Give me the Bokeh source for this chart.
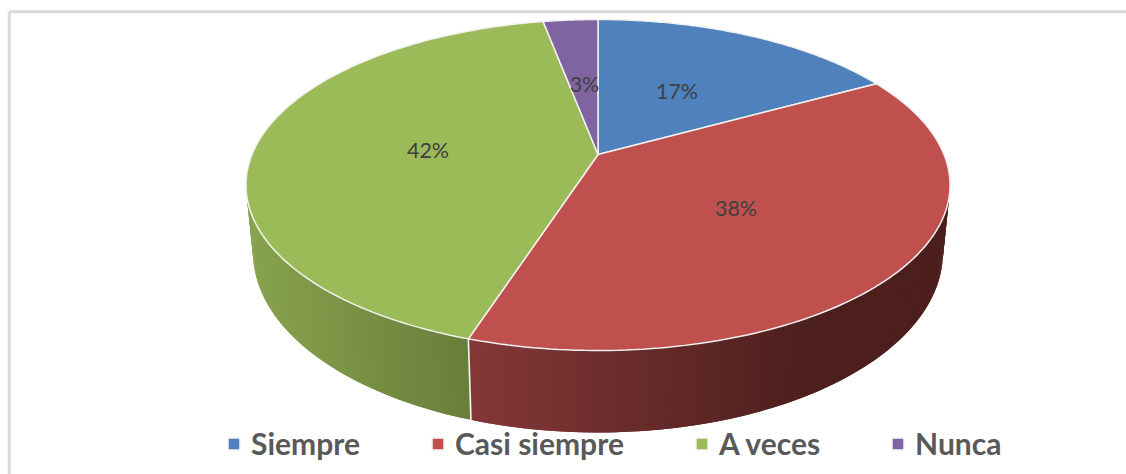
import numpy as np
from bokeh.plotting import figure
from bokeh.models import Range1d, Legend, LegendItem, ColumnDataSource
from bokeh.core.properties import value
from bokeh.embed import file_html
from bokeh.resources import INLINE

categories = ["Siempre", "Casi siempre", "A veces", "Nunca"]
shares = [17, 38, 42, 3]
colors = ["#4f81bd", "#c0504d", "#9bbb59", "#8064a2"]
label_xy = [(676.5, 90), (735.5, 207), (427.5, 149), (584, 83)]

CX = 597.5
C = 0.1843
TOP = dict(d=346, a=-131.5, b=154)
BOT = dict(d=339, a=-133.5, b=218.9)


def proj(theta_deg, ring=None, radius=1.0):
    t = np.radians(theta_deg)
    u, v = radius * np.sin(t), radius * np.cos(t)
    ring = ring or TOP
    w = 1 + C * v
    return CX + ring["d"] * u / w, (ring["a"] * v + ring["b"]) / w


def lerp(c0, c1, f):
    f = max(0.0, min(1.0, f))
    return "#%02x%02x%02x" % tuple(int(round(a + (b - a) * f)) for a, b in zip(c0, c1))


def red_wall(x):
    return lerp((132, 56, 55), (76, 31, 29), (x - 470) / 340)


def green_wall(x):
    return lerp((136, 163, 78), (104, 127, 58), (x - 250) / 220)


edges = np.concatenate([[0], np.cumsum(shares) / sum(shares) * 360])

p = figure(width=1126, height=474, output_backend="svg", toolbar_location=None,
           x_range=Range1d(0, 1126), y_range=Range1d(474, 0),
           min_border=0, outline_line_color=None, background_fill_color="white")
p.xaxis.visible = False
p.yaxis.visible = False
p.grid.visible = False

# frame (top and left only are visible in the reference)
p.line([8.7, 1126], [11.3, 11.3], line_color="#d9d9d9", line_width=3)
p.line([8.7, 8.7], [11.3, 474], line_color="#d9d9d9", line_width=3)

# walls, drawn as overlapping shaded strips
wx, wy, wc = [], [], []
for lo, hi, shade in [(edges[1], edges[2], red_wall), (edges[2], 285, green_wall)]:
    angs = np.arange(lo, hi, 0.75)
    for a0 in angs:
        a1 = min(a0 + 1.5, hi)
        x0, y0 = proj(a0)
        x1, y1 = proj(a1)
        x2, y2 = proj(a1, BOT)
        x3, y3 = proj(a0, BOT)
        wx.append([x0, x1, x2, x3])
        wy.append([y0, y1, y2, y3])
        wc.append(shade((x0 + x3) / 2))
p.patches(wx, wy, fill_color=wc, line_color=None)

# white seam between the walls
sx0, sy0 = proj(edges[2])
sx1, sy1 = proj(edges[2], BOT)
p.line([sx0, sx1], [sy0, sy1], line_color="#f4f4f4", line_width=1.6)

# top face
xs, ys = [], []
for i in range(len(shares)):
    angs = np.linspace(edges[i], edges[i + 1], 120)
    ax, ay = proj(angs)
    ox, oy = proj(0.0, radius=0.0)
    xs.append([ox] + list(ax))
    ys.append([oy] + list(ay))
src = ColumnDataSource(dict(xs=xs, ys=ys, color=colors))
slices = p.patches("xs", "ys", fill_color="color", line_color="#f2f2f2", line_width=1.5, source=src)

# data labels
p.text([q[0] for q in label_xy], [q[1] for q in label_xy], text=[f"{s}%" for s in shares],
       text_font=value("Lato"), text_font_size="21.5px", text_color="#404040",
       text_align="center", text_baseline="middle")

legend = Legend(items=[LegendItem(label=c, renderers=[slices], index=i) for i, c in enumerate(categories)],
                orientation="horizontal", location=(226, 13), spacing=70,
                glyph_width=15, glyph_height=15, label_standoff=10, padding=0, margin=0,
                background_fill_alpha=0, border_line_color=None,
                label_text_font="Lato", label_text_font_style="bold",
                label_text_font_size="30px", label_text_color="#595959")
p.add_layout(legend, "center")

open("out.html", "w").write(file_html(p, INLINE))
